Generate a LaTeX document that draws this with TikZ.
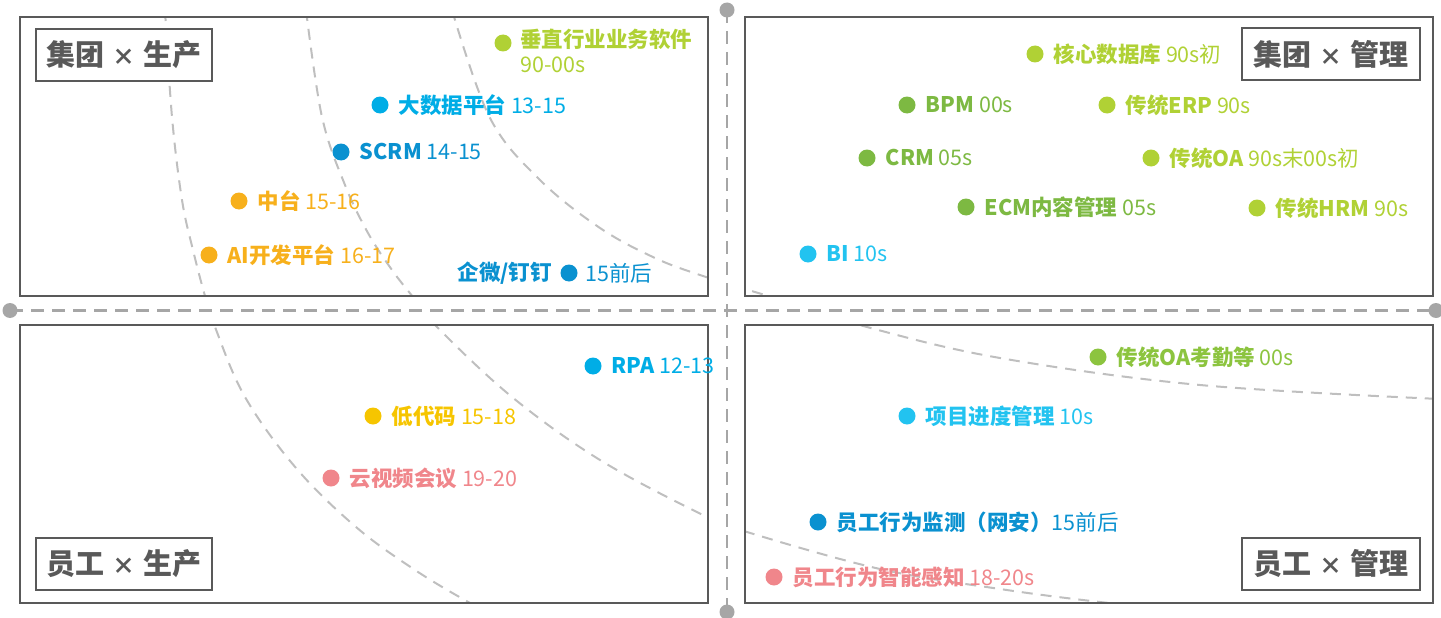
\documentclass[tikz,border=0pt]{standalone}
\usepackage{fontspec}
\setmainfont{Noto Sans CJK SC}
\usetikzlibrary{calc}
\definecolor{frame}{HTML}{595959}
\definecolor{axisc}{HTML}{A6A6A6}
\definecolor{curvec}{HTML}{BFBFBF}
\definecolor{lime}{HTML}{B0D135}
\definecolor{grn}{HTML}{7DB942}
\definecolor{grnb}{HTML}{8CC43F}
\definecolor{lblue}{HTML}{00ADE6}
\definecolor{cyan}{HTML}{22C3F0}
\definecolor{dblue}{HTML}{0A91D0}
\definecolor{orng}{HTML}{F7B01C}
\definecolor{yell}{HTML}{F6C500}
\definecolor{pink}{HTML}{F0868B}
\tikzset{
  quad/.style={draw=frame, line width=2.4pt},
  tagbox/.style={draw=frame, line width=2.2pt, fill=white, text=frame, font=\fontsize{29}{31}\selectfont\bfseries, minimum width=176pt, minimum height=52pt, inner sep=0pt},
  axisline/.style={draw=axisc, line width=2.6pt, dash pattern=on 13pt off 8pt},
  axisdot/.style={circle, fill=axisc, minimum size=15pt, inner sep=0pt},
  arcline/.style={draw=curvec, line width=2pt, dash pattern=on 11pt off 8pt},
  techdot/.style={circle, minimum size=17pt, inner sep=0pt},
  techtxt/.style={anchor=west, inner sep=0pt, font=\fontsize{21.5}{26}\selectfont},
}
\newcommand\tmes{\hspace{8pt}{\fontsize{23}{23}\selectfont\bfseries ×}\hspace{8pt}}
\newcommand\tech[6]{%
  \node[techdot, fill=#4] (#1d) at (#2,#3) {};
  \node[techtxt, text=#4] (#1t) at ($(#1d.center)+(18.5,0)$) {\bfseries #5\mdseries #6};}
\begin{document}
\begin{tikzpicture}[x=1pt, y=-1pt]
\useasboundingbox (0,0) rectangle (1441,618);
% dashed arcs, clipped to the four quadrants
\begin{scope}
\clip (20,17) rectangle (708,296) (745,17) rectangle (1433,296)
      (20,325) rectangle (708,603) (745,325) rectangle (1433,603);
\draw[arcline] plot[smooth, tension=0.6] coordinates {(165,10) (172,117) (182,200) (193,250) (205,296) (215,327) (245,397) (296,468) (356,527) (415,570) (470,603) (500,618)};
\draw[arcline] plot[smooth, tension=0.6] coordinates {(306,10) (322,117) (345,185) (368,233) (392,270) (413,297) (437,327) (512,397) (600,460) (703,515) (747,532) (880,569) (1000,589) (1100,602) (1200,612)};
\draw[arcline] plot[smooth, tension=0.6] coordinates {(452,10) (490,118) (540,180) (600,228) (655,258) (700,275) (745,289) (778,299) (867,327) (1000,358) (1200,385) (1440,399)};
\end{scope}
% quadrant frames
\node[quad, minimum width=688pt, minimum height=279pt, inner sep=0pt] (q1) at (364,156.5) {};
\node[quad, minimum width=688pt, minimum height=279pt, inner sep=0pt] (q2) at (1089,156.5) {};
\node[quad, minimum width=688pt, minimum height=278pt, inner sep=0pt] (q3) at (364,464) {};
\node[quad, minimum width=688pt, minimum height=278pt, inner sep=0pt] (q4) at (1089,464) {};
% axes
\node[axisdot] (xl) at (10,310.5) {};
\node[axisdot] (xr) at (1436,310.5) {};
\node[axisdot] (yt) at (727,10) {};
\node[axisdot] (yb) at (727,612) {};
\draw[axisline] (xl.center) -- (xr.center);
\draw[axisline] (yt.center) -- (yb.center);
% quadrant tags
\node[tagbox] (tag1) at (124,55) {集团\tmes 生产};
\node[tagbox, minimum width=178pt] (tag2) at (1331,54) {集团\tmes 管理};
\node[tagbox] (tag3) at (124,564) {员工\tmes 生产};
\node[tagbox, minimum width=178pt] (tag4) at (1331,564) {员工\tmes 管理};
% top-left
\node[techdot, fill=lime] (vd) at (503,43) {};
\node[techtxt, text=lime, anchor=north west, align=left, font=\fontsize{21.5}{25}\selectfont] (vt) at (520,29) {\bfseries 垂直行业业务软件\\\mdseries 90-00s};
\tech{bd}{380}{105}{lblue}{大数据平台}{ 13-15}
\tech{sc}{341}{152}{dblue}{SCRM}{ 14-15}
\tech{zt}{239}{201}{orng}{中台}{ 15-16}
\tech{ai}{209}{255}{orng}{AI开发平台}{ 16-17}
\node[techdot, fill=dblue] (qwd) at (569,273) {};
\node[techtxt, text=dblue, anchor=east] (qwa) at ($(qwd.center)+(-17,0)$) {\bfseries 企微/钉钉};
\node[techtxt, text=dblue] (qwb) at ($(qwd.center)+(16,0)$) {15前后};
% top-right
\tech{hx}{1035}{54}{lime}{核心数据库}{ 90s初}
\tech{bp}{907}{105}{grn}{BPM}{ 00s}
\tech{erp}{1107}{105}{lime}{传统ERP}{ 90s}
\tech{crm}{867}{158}{grn}{CRM}{ 05s}
\tech{oa}{1151}{158}{lime}{传统OA}{ 90s末00s初}
\tech{ecm}{966}{207}{grn}{ECM内容管理}{ 05s}
\tech{hrm}{1257}{208}{lime}{传统HRM}{ 90s}
\tech{bi}{808}{254}{cyan}{BI}{ 10s}
% bottom-left
\tech{rpa}{593}{366}{lblue}{RPA}{ 12-13}
\tech{ldm}{373}{416}{yell}{低代码}{ 15-18}
\tech{ysp}{331}{478}{pink}{云视频会议}{ 19-20}
% bottom-right
\tech{kq}{1098}{357}{grnb}{传统OA考勤等}{ 00s}
\tech{xm}{907}{416}{cyan}{项目进度管理}{ 10s}
\tech{jc}{818}{522}{dblue}{员工行为监测（网安）}{15前后}
\tech{gz}{774}{577}{pink}{员工行为智能感知}{ 18-20s}
\end{tikzpicture}
\end{document}
